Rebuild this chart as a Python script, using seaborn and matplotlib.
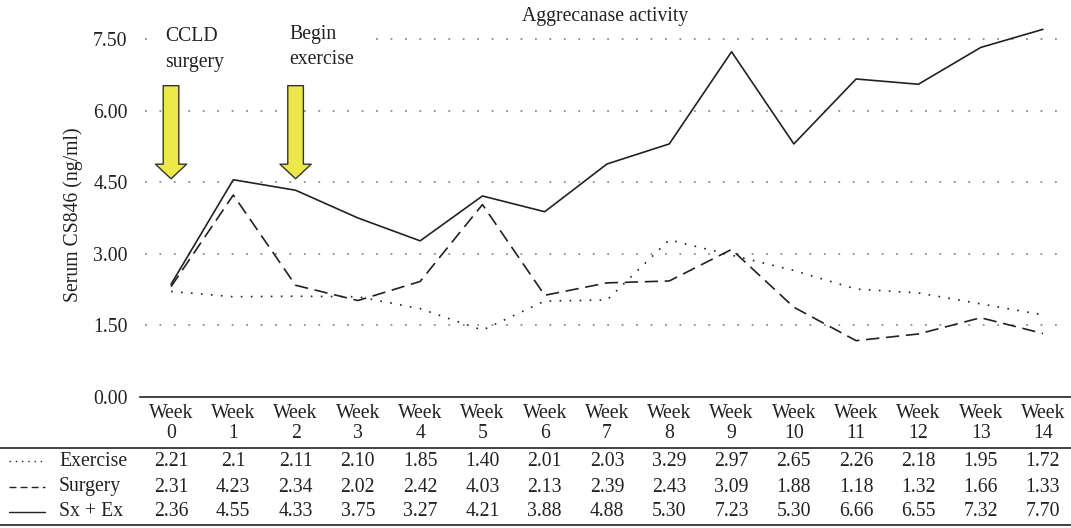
import pandas as pd
import numpy as np
import seaborn as sns
import matplotlib.pyplot as plt
from matplotlib.lines import Line2D
from matplotlib.patches import Rectangle
from matplotlib.transforms import blended_transform_factory

weeks = list(range(15))
week_labels = ["Week\n%d" % w for w in weeks]
series_names = ["Exercise", "Surgery", "Sx + Ex"]

# values as printed in the table under the chart
exercise = ["2.21", "2.1", "2.11", "2.10", "1.85", "1.40", "2.01", "2.03",
            "3.29", "2.97", "2.65", "2.26", "2.18", "1.95", "1.72"]
surgery = ["2.31", "4.23", "2.34", "2.02", "2.42", "4.03", "2.13", "2.39",
           "2.43", "3.09", "1.88", "1.18", "1.32", "1.66", "1.33"]
sx_ex = ["2.36", "4.55", "4.33", "3.75", "3.27", "4.21", "3.88", "4.88",
         "5.30", "7.23", "5.30", "6.66", "6.55", "7.32", "7.70"]
yticks = [0.0, 1.5, 3.0, 4.5, 6.0, 7.5]

table = {"Exercise": exercise, "Surgery": surgery, "Sx + Ex": sx_ex}
df = pd.concat([pd.DataFrame({"week": weeks, "value": pd.to_numeric(v), "series": k})
                for k, v in table.items()])

sns.set_theme(style="white")
plt.rcParams["font.family"] = ["Liberation Serif", "DejaVu Serif"]
FS = 14.2
TXT = "#222222"

W, H = 1071, 528
fig = plt.figure(figsize=(W / 100, H / 100), dpi=100)
ax = fig.add_axes([140 / W, 1 - 397 / H, 931 / W, 382 / H])

dash_map = {"Exercise": (1, 5), "Surgery": (8, 4), "Sx + Ex": ""}
sns.lineplot(data=df, x="week", y="value", style="series", dashes=dash_map,
             color=TXT, linewidth=1.2, legend=False, ax=ax, zorder=3)

ax.set_xlim(-0.498, 14.45)
ax.set_ylim(0, 8.0)
ax.set_yticks(yticks)
ax.set_yticklabels(["%.2f" % t for t in yticks], fontsize=FS, color=TXT)
ax.set_xticks(weeks)
ax.set_xticklabels(week_labels, fontsize=FS, color=TXT)
for lab in ax.get_xticklabels():
    lab.set_linespacing(1.08)
ax.tick_params(axis="both", length=0)
ax.tick_params(axis="y", pad=9)
ax.tick_params(axis="x", pad=5)
ax.set_xlabel("")
ax.set_ylabel("Serum CS846 (ng/ml)", fontsize=FS, color=TXT)
ax.yaxis.set_label_coords((83 - 140) / 931, 0.476)

for s in ["top", "left", "right"]:
    ax.spines[s].set_visible(False)
ax.spines["bottom"].set_color(TXT)
ax.spines["bottom"].set_linewidth(1.2)

for t in yticks[1:]:
    ax.axhline(t, xmin=5 / 931, xmax=925 / 931, color="#8c8c8c",
               linewidth=1.3, linestyle=(0, (1, 7)), zorder=1)

# white box behind the two notes (hides the top gridline there)
ax.add_patch(Rectangle(((158 - 140) / 931, (397 - 47) / 382), 210 / 931, 16 / 382,
                       transform=ax.transAxes, facecolor="white", edgecolor="none", zorder=2))

# annotations
for xpos, txt, ytop in [(0, "CCLD\nsurgery", 7.74), (2, "Begin\nexercise", 7.80)]:
    ax.text(xpos - 0.1, ytop, txt, ha="left", va="top", linespacing=1.45,
            fontsize=FS, color=TXT, zorder=4)
    ax.annotate("", xy=(xpos, 4.57), xytext=(xpos, 6.52),
                arrowprops=dict(arrowstyle="simple,head_length=0.7,head_width=1.5,tail_width=0.75",
                                mutation_scale=15, fc="#ede84a", ec="#333333",
                                lw=1.0, shrinkA=0, shrinkB=0), zorder=5)

fig.text(605 / W, 1 - 16 / H, "Aggrecanase activity", ha="center", va="center",
         fontsize=FS, color=TXT)

# data table below the chart
tr = blended_transform_factory(ax.transData, fig.transFigure)
row_y = [461, 487, 512]
sample_dash = {"Exercise": (0, (1, 3.5)), "Surgery": (0, (5, 3)), "Sx + Ex": "-"}
for name, yy in zip(series_names, row_y):
    fy = 1 - yy / H
    for w, v in zip(weeks, table[name]):
        ax.text(w, fy, v, transform=tr, ha="center", va="center",
                fontsize=FS, color=TXT, clip_on=False)
    fig.text(59 / W, fy, name, ha="left", va="center", fontsize=FS, color=TXT)
    fig.add_artist(Line2D([9 / W, 45 / W], [fy, fy], color=TXT, linewidth=1.0,
                          linestyle=sample_dash[name], transform=fig.transFigure))

for yy in [448, 525]:
    fig.add_artist(Line2D([0, 1], [1 - yy / H, 1 - yy / H], color=TXT,
                          linewidth=1.2, transform=fig.transFigure))

fig.savefig("out.png", dpi=100)
